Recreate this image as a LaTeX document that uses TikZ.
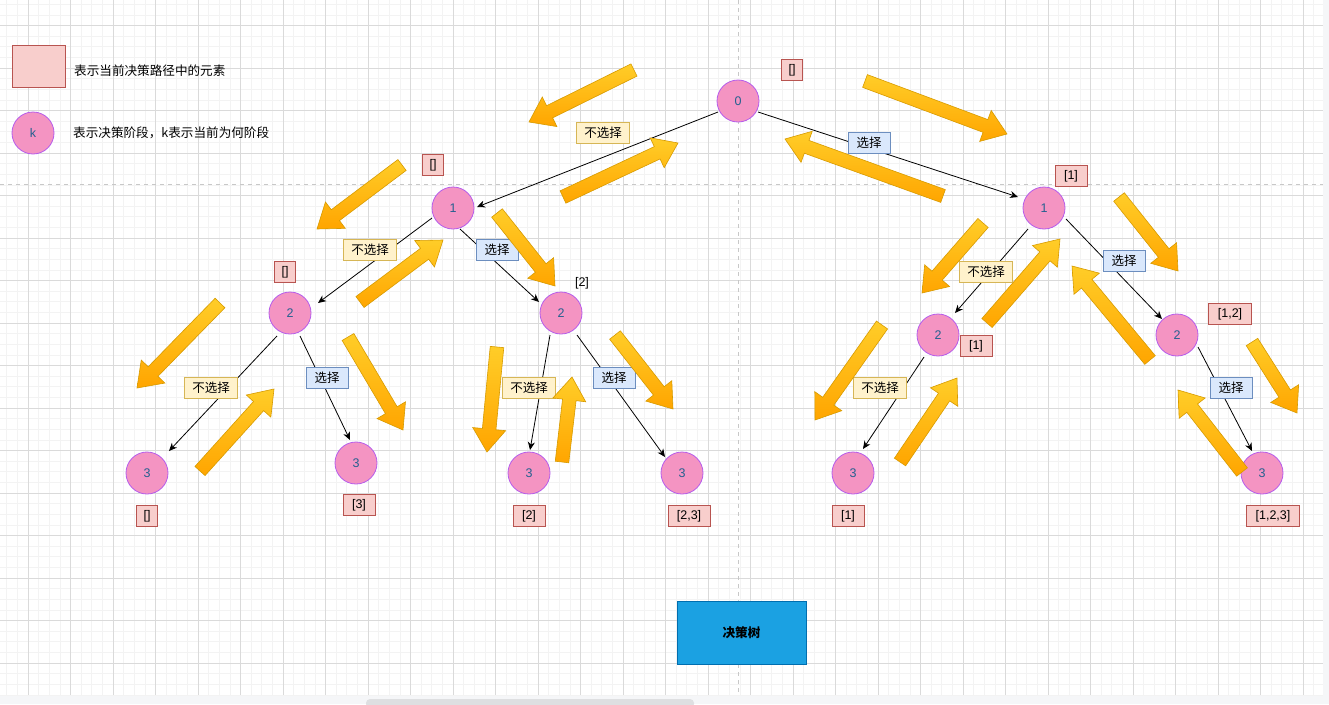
\documentclass[tikz,border=0pt]{standalone}
\usepackage{fontspec}
\setmainfont{Liberation Sans}
\newfontfamily\cjk{Noto Sans CJK SC}
\usetikzlibrary{calc,arrows.meta}
\definecolor{gridminor}{HTML}{F3F3F3}
\definecolor{gridmajor}{HTML}{DADADA}
\definecolor{pagebreak}{HTML}{C8C8C8}
\definecolor{circfill}{HTML}{F494C2}
\definecolor{circline}{HTML}{B65CEB}
\definecolor{circtext}{HTML}{24608F}
\definecolor{redfill}{HTML}{F8CECC}
\definecolor{redline}{HTML}{B85450}
\definecolor{yelfill}{HTML}{FFF2CC}
\definecolor{yelline}{HTML}{D6B656}
\definecolor{blufill}{HTML}{DAE8FC}
\definecolor{bluline}{HTML}{6C8EBF}
\definecolor{arrtop}{HTML}{FFCD28}
\definecolor{arrbot}{HTML}{FFA500}
\definecolor{arrline}{HTML}{D79B00}
\definecolor{titlefill}{HTML}{1BA1E2}
\definecolor{titleline}{HTML}{006EAF}
\definecolor{chrome}{HTML}{F5F6F8}
\definecolor{thumb}{HTML}{DEDFE1}
\newcommand\fatarrow[2]{%
  \path (#1) coordinate (fa-tail) (#2) coordinate (fa-tip)
        ($(fa-tip)!23pt!(fa-tail)$) coordinate (fa-base);
  \draw[fatstyle]
    ($(fa-tail)!6.8pt!90:(fa-tip)$) -- ($(fa-base)!6.8pt!-90:(fa-tail)$)
    -- ($(fa-base)!16.5pt!-90:(fa-tail)$) -- (fa-tip)
    -- ($(fa-base)!16.5pt!90:(fa-tail)$) -- ($(fa-base)!6.8pt!90:(fa-tail)$)
    -- ($(fa-tail)!6.8pt!-90:(fa-tip)$) -- cycle;
}
\begin{document}
\begin{tikzpicture}[x=1pt,y=-1pt,
  stage/.style={circle, draw=circline, fill=circfill, line width=0.8pt,
    minimum size=42pt, inner sep=0pt, text=circtext,
    font=\fontsize{12.5}{14}\selectfont},
  elem/.style={draw=redline, fill=redfill, line width=0.8pt,
    minimum width=#1, minimum height=21pt, inner sep=0pt,
    font=\fontsize{12.5}{14}\selectfont},
  plaintext/.style={inner sep=0pt, font=\fontsize{12.5}{14}\selectfont},
  nolbl/.style={draw=yelline, fill=yelfill, line width=0.8pt,
    minimum width=53pt, minimum height=21pt, inner sep=0pt,
    font=\cjk\fontsize{12.5}{14}\selectfont},
  yeslbl/.style={draw=bluline, fill=blufill, line width=0.8pt,
    minimum width=42pt, minimum height=21pt, inner sep=0pt,
    font=\cjk\fontsize{12.5}{14}\selectfont},
  link/.style={draw=black, line width=0.8pt, -{Stealth[length=8pt,width=7pt,inset=2.5pt]}},
  fatstyle/.style={draw=arrline, line width=0.6pt, top color=arrtop, bottom color=arrbot},
  legendtext/.style={anchor=west, inner sep=0pt, font=\cjk\fontsize{12.6}{14}\selectfont},
  titlebox/.style={draw=titleline, fill=titlefill, line width=0.8pt,
    minimum width=129pt, minimum height=63pt, inner sep=0pt,
    font=\cjk\bfseries\fontsize{12.6}{14}\selectfont}
]
\useasboundingbox (0,0) rectangle (1329,704);
% canvas and editor chrome
\fill[white] (0,0) rectangle (1329,704);
\fill[chrome] (1323,0) rectangle (1329,704);
\fill[chrome] (0,695) rectangle (1329,704);
\fill[thumb, rounded corners=4pt] (366,699) rectangle (694,708);
% grid
\foreach \i in {0,...,123} \draw[gridminor, line width=0.6pt] ({6.75+\i*10.625},0) -- ({6.75+\i*10.625},695);
\foreach \i in {0,...,65} \draw[gridminor, line width=0.6pt] (0,{4.25+\i*10.625}) -- (1323,{4.25+\i*10.625});
\foreach \i in {0,...,30} \draw[gridmajor, line width=0.7pt] ({28+\i*42.5},0) -- ({28+\i*42.5},695);
\foreach \i in {0,...,15} \draw[gridmajor, line width=0.7pt] (0,{25.5+\i*42.5}) -- (1323,{25.5+\i*42.5});
% page breaks
\draw[pagebreak, line width=1pt, dash pattern=on 4pt off 4pt] (738,0) -- (738,695);
\draw[pagebreak, line width=1pt, dash pattern=on 4pt off 4pt] (0,184) -- (1323,184);

% legend
\node[draw=redline, fill=redfill, line width=0.8pt, minimum width=53pt, minimum height=42pt, inner sep=0pt] (legrect) at (38.5,66) {};
\node[legendtext] (legtext1) at (74,71) {表示当前决策路径中的元素};
\node[stage] (legcirc) at (33,133) {k};
\node[legendtext] (legtext2) at (73,133) {表示决策阶段，k表示当前为何阶段};

% tree nodes
\node[stage] (n0) at (738,101) {0};
\node[stage] (n1L) at (453,208) {1};
\node[stage] (n2LL) at (290,313) {2};
\node[stage] (n2LR) at (561,313) {2};
\node[stage] (n3a) at (147,473) {3};
\node[stage] (n3b) at (356,463) {3};
\node[stage] (n3c) at (529,473) {3};
\node[stage] (n3d) at (682,473) {3};
\node[stage] (n1R) at (1044,208) {1};
\node[stage] (n2RL) at (938,335) {2};
\node[stage] (n2RR) at (1177,335) {2};
\node[stage] (n3e) at (853,473) {3};
\node[stage] (n3f) at (1262,473) {3};

% connectors
\draw[link] ($(n0)+(-20,11)$) -- ($(n1L)+(24,-1)$);
\draw[link] ($(n0)+(20,11)$) -- ($(n1R)+(-26,-11)$);
\draw[link] ($(n1L)+(-21,10)$) -- ($(n2LL)+(28,-10)$);
\draw[link] ($(n1L)+(7,21)$) -- ($(n2LR)+(-22,-11)$);
\draw[link] ($(n2LL)+(-13,23)$) -- ($(n3a)+(22,-22)$);
\draw[link] ($(n2LL)+(10,23)$) -- ($(n3b)+(-6,-23)$);
\draw[link] ($(n2LR)+(-11,22)$) -- ($(n3c)+(1,-23)$);
\draw[link] ($(n2LR)+(16,22)$) -- ($(n3d)+(-17,-16)$);
\draw[link] ($(n1R)+(-16,21)$) -- ($(n2RL)+(17,-22)$);
\draw[link] ($(n1R)+(22,11)$) -- ($(n2RR)+(-15,-16)$);
\draw[link] ($(n2RL)+(-14,22)$) -- ($(n3e)+(10,-24)$);
\draw[link] ($(n2RR)+(21,12)$) -- ($(n3f)+(-10,-22)$);

% connector labels
\node[nolbl] (l01) at (603,133) {不选择};
\node[yeslbl] (l02) at (869,143) {选择};
\node[nolbl] (l03) at (370,250) {不选择};
\node[yeslbl] (l04) at (497,250) {选择};
\node[nolbl] (l05) at (211,388) {不选择};
\node[yeslbl] (l06) at (327,378) {选择};
\node[nolbl] (l07) at (529,388) {不选择};
\node[yeslbl] (l08) at (614,378) {选择};
\node[nolbl] (l09) at (986,272) {不选择};
\node[yeslbl] (l10) at (1124,261) {选择};
\node[nolbl] (l11) at (880,388) {不选择};
\node[yeslbl] (l12) at (1231,388) {选择};

% path contents
\node[elem=21pt] (e0) at (792,70) {[]};
\node[elem=21pt] (e1L) at (433,165) {[]};
\node[elem=21pt] (e2LL) at (285,272) {[]};
\node[plaintext] (t2LR) at (582,283) {[2]};
\node[elem=21pt] (e3a) at (147,516) {[]};
\node[elem=32pt] (e3b) at (359,505) {[3]};
\node[elem=32pt] (e3c) at (529,516) {[2]};
\node[elem=42pt] (e3d) at (689,516) {[2,3]};
\node[elem=32pt] (e1R) at (1071,176) {[1]};
\node[elem=32pt] (e2RL) at (976,346) {[1]};
\node[elem=43pt] (e2RR) at (1230,314) {[1,2]};
\node[elem=32pt] (e3e) at (848,516) {[1]};
\node[elem=53pt] (e3f) at (1273,516) {[1,2,3]};

% title
\node[titlebox] (title) at (741.5,632.5) {决策树};

% traversal arrows
\fatarrow{634,70}{529,122}
\fatarrow{563,197}{678,143}
\fatarrow{865,81}{1007,134}
\fatarrow{943,196}{785,139}
\fatarrow{402,165}{317,229}
\fatarrow{360,302}{443,240}
\fatarrow{497,213}{555,286}
\fatarrow{220,303}{137,388}
\fatarrow{200,471}{274,389}
\fatarrow{348,337}{403,430}
\fatarrow{497,347}{487,452}
\fatarrow{562,462}{572,377}
\fatarrow{615,335}{673,409}
\fatarrow{983,223}{922,293}
\fatarrow{987,323}{1060,239}
\fatarrow{1119,197}{1178,271}
\fatarrow{1150,360}{1072,266}
\fatarrow{882,325}{815,420}
\fatarrow{900,462}{957,378}
\fatarrow{1252,342}{1297,413}
\fatarrow{1242,472}{1178,390}
\end{tikzpicture}
\end{document}
